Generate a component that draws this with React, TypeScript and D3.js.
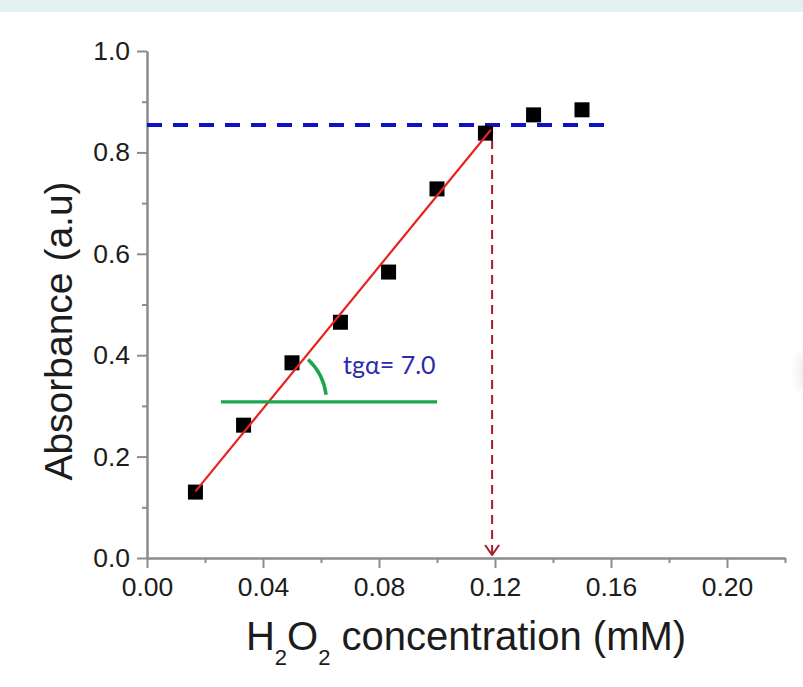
import * as d3 from "d3";
import { useEffect, useRef } from "react";

// H2O2 calibration: absorbance vs concentration
const concentration = [0.0167, 0.0333, 0.05, 0.0667, 0.0833, 0.1, 0.1167, 0.1333, 0.15];
const absorbance = [0.13, 0.262, 0.385, 0.465, 0.564, 0.728, 0.838, 0.874, 0.884];
const absError = [0.008, 0.012, 0.012, 0.01, 0.01, 0.01, 0.008, 0.006, 0.006];

// linear fit over the first seven points
const fitSlope = 7.0;
const fitIntercept = 0.0146;
const fitRange = [0.0167, 0.1186];

// plateau level and the concentration where it is reached
const plateau = 0.854;
const plateauEnd = 0.158;
const cutoff = 0.119;

// horizontal reference for the slope angle
const angleLineY = 0.308;
const angleLineRange = [0.0255, 0.1];
const slopeLabel = "tgα= 7.0";

const xMajorTicks = [0, 0.04, 0.08, 0.12, 0.16, 0.2];
const xMinorTicks = [0.02, 0.06, 0.1, 0.14, 0.18, 0.22];
const yMajorTicks = [0, 0.2, 0.4, 0.6, 0.8, 1.0];
const yMinorTicks = [0.1, 0.3, 0.5, 0.7, 0.9];

const W = 803;
const H = 687;
const FONT = "'Liberation Sans', Arial, sans-serif";

export default function App() {
  const svgRef = useRef<SVGSVGElement>(null);

  useEffect(() => {
    const svg = d3.select(svgRef.current);
    svg.selectAll("*").remove();

    const x = d3.scaleLinear().domain([0, 0.22]).range([147, 785]);
    const y = d3.scaleLinear().domain([0, 1]).range([558, 51]);

    svg.append("rect").attr("width", W).attr("height", H).attr("fill", "#fff");
    svg.append("rect").attr("width", W).attr("height", 12).attr("fill", "#e5f1f1");

    const defs = svg.append("defs");
    defs
      .append("filter")
      .attr("id", "blur")
      .attr("x", "-100%")
      .attr("y", "-100%")
      .attr("width", "300%")
      .attr("height", "300%")
      .append("feGaussianBlur")
      .attr("stdDeviation", 6);
    defs
      .append("marker")
      .attr("id", "arrow")
      .attr("viewBox", "0 0 16 12")
      .attr("refX", 8)
      .attr("refY", 11)
      .attr("markerWidth", 16)
      .attr("markerHeight", 12)
      .attr("markerUnits", "userSpaceOnUse")
      .attr("orient", "0")
      .append("path")
      .attr("d", "M1,1 L8,11 L15,1")
      .attr("fill", "none")
      .attr("stroke", "#a51c30")
      .attr("stroke-width", 2);

    // faint shadow at right edge
    svg
      .append("ellipse")
      .attr("cx", 810)
      .attr("cy", 372)
      .attr("rx", 12)
      .attr("ry", 22)
      .attr("fill", "#ebebeb")
      .attr("filter", "url(#blur)");

    const styleAxis = (g: any) => {
      g.select(".domain").attr("stroke", "#8c8c8c").attr("stroke-width", 2);
      g.selectAll(".tick line").attr("stroke", "#8c8c8c").attr("stroke-width", 2);
      g.selectAll(".tick text")
        .attr("fill", "#1c1c1c")
        .attr("font-size", 26.5)
        .attr("font-family", FONT);
    };

    // x axis
    svg
      .append("g")
      .attr("transform", `translate(0,${y(0)})`)
      .call(d3.axisBottom(x).tickValues(xMinorTicks).tickSize(5).tickSizeOuter(0).tickFormat(() => ""))
      .call(styleAxis);
    svg
      .append("g")
      .attr("transform", `translate(0,${y(0)})`)
      .call(d3.axisBottom(x).tickValues(xMajorTicks).tickSize(10).tickSizeOuter(0).tickPadding(9).tickFormat(d3.format(".2f")))
      .call(styleAxis);

    // y axis
    svg
      .append("g")
      .attr("transform", `translate(${x(0)},0)`)
      .call(d3.axisLeft(y).tickValues(yMinorTicks).tickSize(5).tickSizeOuter(0).tickFormat(() => ""))
      .call(styleAxis);
    svg
      .append("g")
      .attr("transform", `translate(${x(0)},0)`)
      .call(d3.axisLeft(y).tickValues(yMajorTicks).tickSize(10).tickSizeOuter(0).tickPadding(7).tickFormat(d3.format(".1f")))
      .call(styleAxis);

    // plateau
    svg
      .append("line")
      .attr("x1", x(0))
      .attr("x2", x(plateauEnd))
      .attr("y1", y(plateau))
      .attr("y2", y(plateau))
      .attr("stroke", "#1010c8")
      .attr("stroke-width", 4)
      .attr("stroke-dasharray", "15,11");

    // cutoff arrow
    svg
      .append("line")
      .attr("x1", x(cutoff))
      .attr("x2", x(cutoff))
      .attr("y1", y(plateau))
      .attr("y2", y(0) - 3)
      .attr("stroke", "#a51c30")
      .attr("stroke-width", 2)
      .attr("stroke-dasharray", "9,6")
      .attr("marker-end", "url(#arrow)");

    // error bars
    const pts = concentration.map((c, i) => ({ c, a: absorbance[i], e: absError[i] }));
    const err = svg.append("g").attr("stroke", "#777").attr("stroke-width", 1.2);
    pts.forEach((p) => {
      err
        .append("line")
        .attr("x1", x(p.c))
        .attr("x2", x(p.c))
        .attr("y1", y(p.a - p.e))
        .attr("y2", y(p.a + p.e));
      [p.a - p.e, p.a + p.e].forEach((v) =>
        err
          .append("line")
          .attr("x1", x(p.c) - 5)
          .attr("x2", x(p.c) + 5)
          .attr("y1", y(v))
          .attr("y2", y(v))
      );
    });

    // data squares
    svg
      .append("g")
      .selectAll("rect")
      .data(pts)
      .join("rect")
      .attr("x", (d) => x(d.c) - 7.5)
      .attr("y", (d) => y(d.a) - 7.5)
      .attr("width", 15)
      .attr("height", 15)
      .attr("fill", "#000");

    // fit line
    const fit = d3
      .line<number>()
      .x((c) => x(c))
      .y((c) => y(fitSlope * c + fitIntercept));
    svg
      .append("path")
      .attr("d", fit(fitRange))
      .attr("fill", "none")
      .attr("stroke", "#e8221e")
      .attr("stroke-width", 2.2);

    // angle indicator
    svg
      .append("line")
      .attr("x1", x(angleLineRange[0]))
      .attr("x2", x(angleLineRange[1]))
      .attr("y1", y(angleLineY))
      .attr("y2", y(angleLineY))
      .attr("stroke", "#1ba64e")
      .attr("stroke-width", 3.2);
    const cx = x((angleLineY - fitIntercept) / fitSlope);
    const cy = y(angleLineY);
    const r = 58;
    const a0 = (-7 * Math.PI) / 180;
    const a1 = (-47 * Math.PI) / 180;
    svg
      .append("path")
      .attr(
        "d",
        `M${cx + r * Math.cos(a0)},${cy + r * Math.sin(a0)} A${r},${r} 0 0 0 ${cx + r * Math.cos(a1)},${cy + r * Math.sin(a1)}`
      )
      .attr("fill", "none")
      .attr("stroke", "#1ba64e")
      .attr("stroke-width", 3.5);
    svg
      .append("text")
      .attr("x", 343)
      .attr("y", 374)
      .attr("fill", "#2b2bab")
      .attr("font-size", 25)
      .attr("font-family", "Lato, 'Open Sans', sans-serif")
      .text(slopeLabel);

    // axis titles
    const xt = svg
      .append("text")
      .attr("x", 466)
      .attr("y", 650)
      .attr("text-anchor", "middle")
      .attr("font-size", 40)
      .attr("font-family", FONT)
      .attr("fill", "#1c1c1c");
    xt.append("tspan").text("H");
    xt.append("tspan").attr("dy", 15).attr("font-size", 22).text("2");
    xt.append("tspan").attr("dy", -15).text("O");
    xt.append("tspan").attr("dy", 15).attr("font-size", 22).text("2");
    xt.append("tspan").attr("dy", -15).text(" concentration (mM)");

    svg
      .append("text")
      .attr("transform", "translate(72,331) rotate(-90)")
      .attr("text-anchor", "middle")
      .attr("font-size", 39)
      .attr("font-family", FONT)
      .attr("fill", "#1c1c1c")
      .text("Absorbance (a.u)");
  }, []);

  return (
    <svg
      ref={svgRef}
      width={W}
      height={H}
      style={{ position: "absolute", left: 0, top: 0, display: "block" }}
    />
  );
}
